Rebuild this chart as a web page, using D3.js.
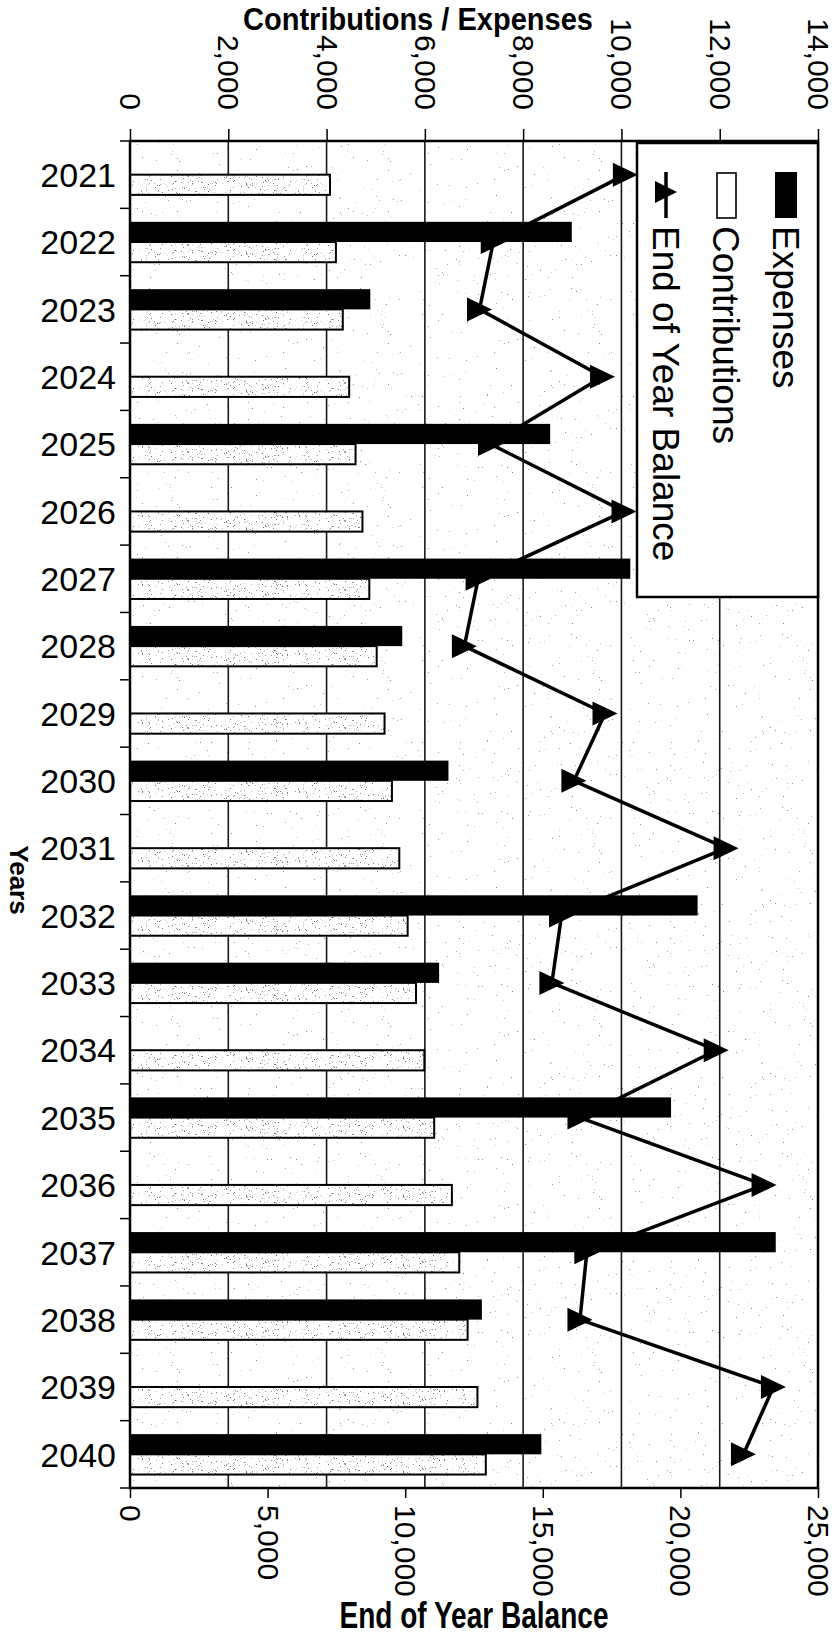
<!DOCTYPE html>
<html><head><meta charset="utf-8">
<script src="https://cdn.jsdelivr.net/npm/d3@7"></script>
<style>body{margin:0;background:#fff} svg{display:block}</style>
</head><body>
<svg id="chart" width="836" height="1639"></svg>
<script>
const years = ["2021","2022","2023","2024","2025","2026","2027","2028","2029","2030",
               "2031","2032","2033","2034","2035","2036","2037","2038","2039","2040"];
const contributions = [4070,4190,4330,4460,4590,4730,4870,5020,5180,5330,
                       5480,5650,5820,5990,6190,6550,6700,6870,7070,7240];
const expenses = [0,8990,4890,0,8550,0,10180,5540,0,6480,
                  0,11550,6290,0,11010,0,13140,7160,0,8370];
const balance = [18000,13200,12700,17170,13100,17950,12650,12150,17260,16130,
                 21660,15680,15330,21300,16350,23040,16600,16350,23380,22290];
const topTicks = [0,2000,4000,6000,8000,10000,12000,14000];
const bottomTicks = [0,5000,10000,15000,20000,25000];
const seriesNames = ["Expenses","Contributions","End of Year Balance"];
const titleTop = "Contributions / Expenses";
const titleBottom = "End of Year Balance";
const titleYears = "Years";

const FONT = "'Liberation Sans', Arial, sans-serif";
const svg = d3.select("#chart").style("font-family", FONT);
const m = {left:130, right:818, top:141, bottom:1488};

const y = d3.scaleBand().domain(years).range([m.top, m.bottom]);
const bw = y.bandwidth();
const sub = d3.scaleBand().domain(["Expenses","Contributions"]).range([0.2*bw, 0.8*bw]);
const xTop = d3.scaleLinear().domain([0,14000]).range([m.left, m.right]);
const xBot = d3.scaleLinear().domain([0,25000]).range([m.left, m.right]);
const fmt = d3.format(",");

// speckle textures (styling only)
const defs = svg.append("defs");
function speckle(id, w, h, n, seed, lo, span) {
  const p = defs.append("pattern").attr("id", id).attr("patternUnits","userSpaceOnUse")
    .attr("width", w).attr("height", h);
  p.append("rect").attr("width", w).attr("height", h).attr("fill", "#fff");
  let s = seed;
  const next = () => (s = (s * 16807) % 2147483647);
  for (let i = 0; i < n; i++) {
    const px = next() % w, py = next() % h, g = lo + next() % span;
    p.append("rect").attr("x", px).attr("y", py).attr("width", 1).attr("height", 1)
      .attr("fill", `rgb(${g},${g},${g})`);
  }
}
speckle("bg", 211, 173, 220, 12345, 130, 100);
speckle("contrib", 157, 23, 225, 777, 100, 120);

// plot background
svg.append("rect").attr("x", m.left).attr("y", m.top)
  .attr("width", m.right - m.left).attr("height", m.bottom - m.top)
  .attr("fill", "url(#bg)");

// gridlines
svg.append("g").selectAll("line").data(topTicks.slice(1, -1)).join("line")
  .attr("x1", d => xTop(d)).attr("x2", d => xTop(d))
  .attr("y1", m.top).attr("y2", m.bottom)
  .attr("stroke", "#1a1a1a").attr("stroke-width", 1.6);

// contributions bars
svg.append("g").selectAll("rect").data(years).join("rect")
  .attr("x", xTop(0))
  .attr("y", (d) => y(d) + sub("Contributions"))
  .attr("width", (d, i) => xTop(contributions[i]) - xTop(0))
  .attr("height", sub.bandwidth())
  .attr("fill", "url(#contrib)").attr("stroke", "#000").attr("stroke-width", 2);

// expenses bars
svg.append("g").selectAll("rect").data(years.filter((d, i) => expenses[i] > 0)).join("rect")
  .attr("x", xTop(0))
  .attr("y", d => y(d) + sub("Expenses"))
  .attr("width", d => xTop(expenses[years.indexOf(d)]) - xTop(0))
  .attr("height", sub.bandwidth())
  .attr("fill", "#000");

// balance line
const pts = years.map((d, i) => ({year: d, v: balance[i]}));
svg.append("path").datum(pts)
  .attr("d", d3.line().x(d => xBot(d.v)).y(d => y(d.year) + bw / 2))
  .attr("fill", "none").attr("stroke", "#000").attr("stroke-width", 3.5)
  .attr("stroke-linejoin", "round");
const tri = "M12.5,0 L-12.5,-12 L-12.5,12 Z";
svg.append("g").selectAll("path").data(pts).join("path")
  .attr("d", tri)
  .attr("transform", d => `translate(${xBot(d.v)},${y(d.year) + bw / 2})`)
  .attr("fill", "#000");

// plot border
svg.append("rect").attr("x", m.left).attr("y", m.top)
  .attr("width", m.right - m.left).attr("height", m.bottom - m.top)
  .attr("fill", "none").attr("stroke", "#000").attr("stroke-width", 2.5);

// top axis
const gTop = svg.append("g").attr("transform", `translate(0,${m.top})`)
  .call(d3.axisTop(xTop).tickValues(topTicks).tickFormat(fmt).tickSize(12).tickSizeOuter(0));
gTop.select(".domain").remove();
gTop.selectAll(".tick line").attr("stroke", "#000").attr("stroke-width", 1.5);
gTop.selectAll(".tick text")
  .attr("transform", `translate(0,${110 - m.top}) rotate(90)`)
  .attr("x", 0).attr("y", 0).attr("dy", "0.35em")
  .attr("text-anchor", "end").attr("font-size", 30).attr("fill", "#000")
  .attr("font-family", FONT);

// bottom axis
const gBot = svg.append("g").attr("transform", `translate(0,${m.bottom})`)
  .call(d3.axisBottom(xBot).tickValues(bottomTicks).tickFormat(fmt).tickSize(10).tickSizeOuter(0));
gBot.select(".domain").remove();
gBot.selectAll(".tick line").attr("stroke", "#000").attr("stroke-width", 1.5);
gBot.selectAll(".tick text")
  .attr("transform", `translate(0,${1505 - m.bottom}) rotate(90)`)
  .attr("x", 0).attr("y", 0).attr("dy", "0.35em")
  .attr("text-anchor", "start").attr("font-size", 30).attr("fill", "#000")
  .attr("font-family", FONT);

// left category axis: ticks at band boundaries
const bounds = years.map(d => y(d)).concat([m.bottom]);
svg.append("g").selectAll("line").data(bounds).join("line")
  .attr("x1", m.left - 10).attr("x2", m.left)
  .attr("y1", d => d).attr("y2", d => d)
  .attr("stroke", "#000").attr("stroke-width", 1.5);
svg.append("g").selectAll("text").data(years).join("text")
  .attr("x", 116).attr("y", d => y(d) + bw / 2).attr("dy", "0.36em")
  .attr("text-anchor", "end").attr("font-size", 34).attr("fill", "#000")
  .text(d => d);

// axis titles
svg.append("text").attr("x", 418).attr("y", 30).attr("text-anchor", "middle")
  .attr("font-weight", "bold").attr("font-size", 32)
  .attr("textLength", 350).attr("lengthAdjust", "spacingAndGlyphs")
  .text(titleTop);
svg.append("text").attr("x", 474).attr("y", 1628).attr("text-anchor", "middle")
  .attr("font-weight", "bold").attr("font-size", 36)
  .attr("textLength", 269).attr("lengthAdjust", "spacingAndGlyphs")
  .text(titleBottom);
svg.append("text").attr("transform", "translate(19,880) rotate(90)")
  .attr("text-anchor", "middle").attr("dy", "0.35em")
  .attr("font-weight", "bold").attr("font-size", 26)
  .text(titleYears);

// legend
const lg = svg.append("g");
lg.append("rect").attr("x", 637).attr("y", 143).attr("width", 181).attr("height", 454)
  .attr("fill", "#fff").attr("stroke", "#000").attr("stroke-width", 2.5);
const keyX = {"Expenses": 786, "Contributions": 726, "End of Year Balance": 666};
lg.append("rect").attr("x", keyX["Expenses"] - 11).attr("y", 172).attr("width", 22).attr("height", 46)
  .attr("fill", "#000");
lg.append("rect").attr("x", keyX["Contributions"] - 9).attr("y", 173).attr("width", 19).attr("height", 45)
  .attr("fill", "#fff").attr("stroke", "#000").attr("stroke-width", 1.6);
lg.append("line").attr("x1", keyX["End of Year Balance"]).attr("x2", keyX["End of Year Balance"])
  .attr("y1", 172).attr("y2", 218).attr("stroke", "#000").attr("stroke-width", 3.5);
lg.append("path").attr("d", "M11,0 L-11,-11 L-11,11 Z")
  .attr("transform", `translate(${keyX["End of Year Balance"]},192)`).attr("fill", "#000");
lg.selectAll("text.lt").data(seriesNames).join("text").attr("class", "lt")
  .attr("transform", d => `translate(${keyX[d]},226) rotate(90)`)
  .attr("dy", "0.35em").attr("text-anchor", "start").attr("font-size", 37).attr("fill", "#000")
  .text(d => d);
</script>
</body></html>
